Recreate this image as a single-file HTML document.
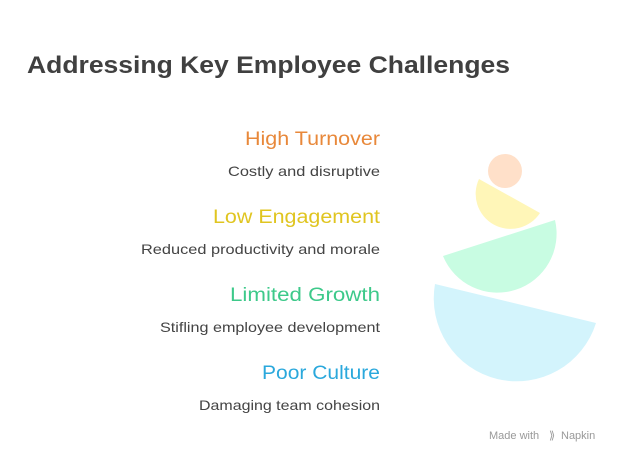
<!DOCTYPE html>
<html><head><style>html,body{margin:0;padding:0;background:#fff;}</style></head>
<body>
<svg width="622" height="462" viewBox="0 0 622 462" xmlns="http://www.w3.org/2000/svg" font-family="Liberation Sans, sans-serif">
<rect width="622" height="462" fill="#fff"/>
<text x="27" y="73" font-size="24" font-weight="bold" fill="#404040" textLength="483" lengthAdjust="spacingAndGlyphs">Addressing Key Employee Challenges</text>
<g text-anchor="end">
<text x="380" y="145" font-size="19" fill="#E8883A" textLength="135" lengthAdjust="spacingAndGlyphs">High Turnover</text>
<text x="380" y="176" font-size="14" fill="#444" textLength="152" lengthAdjust="spacingAndGlyphs">Costly and disruptive</text>
<text x="380" y="223" font-size="19" fill="#E0C520" textLength="167" lengthAdjust="spacingAndGlyphs">Low Engagement</text>
<text x="380" y="254" font-size="14" fill="#444" textLength="239" lengthAdjust="spacingAndGlyphs">Reduced productivity and morale</text>
<text x="380" y="301" font-size="19" fill="#3DC98A" textLength="150" lengthAdjust="spacingAndGlyphs">Limited Growth</text>
<text x="380" y="332" font-size="14" fill="#444" textLength="220" lengthAdjust="spacingAndGlyphs">Stifling employee development</text>
<text x="380" y="379" font-size="19" fill="#2AA8DC" textLength="118" lengthAdjust="spacingAndGlyphs">Poor Culture</text>
<text x="380" y="410" font-size="14" fill="#444" textLength="181" lengthAdjust="spacingAndGlyphs">Damaging team cohesion</text>
</g>
<circle cx="505" cy="171" r="17" fill="#FFE0C9"/>
<path d="M479 179 A35 35 0 0 0 540 213 Z" fill="#FFF6B8"/>
<path d="M443 256 A59 59 0 0 0 555 220 Z" fill="#C8FCE2"/>
<path d="M435 284 A83 83 0 0 0 596 323 Z" fill="#D3F4FC"/>
<text x="489" y="439" font-size="11" fill="#999">Made with</text>
<text x="549" y="439" font-size="11" fill="#999">⟫</text>
<text x="561" y="439" font-size="11" fill="#999">Napkin</text>
</svg>
</body></html>
